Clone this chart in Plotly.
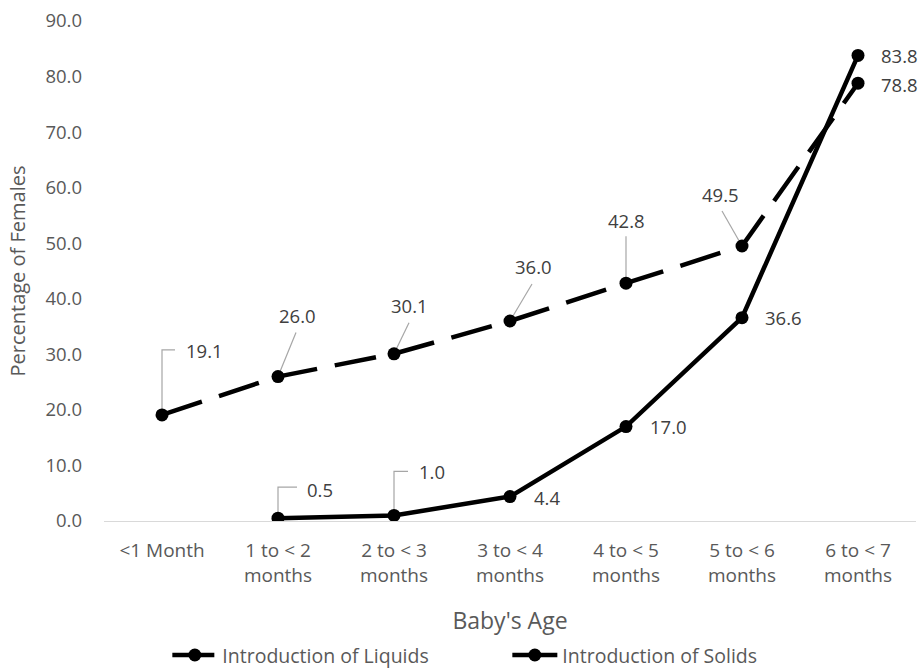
import plotly.graph_objects as go

categories = ["<1 Month", "1 to < 2<br>months", "2 to < 3<br>months", "3 to < 4<br>months",
              "4 to < 5<br>months", "5 to < 6<br>months", "6 to < 7<br>months"]
liquids = [19.1, 26.0, 30.1, 36.0, 42.8, 49.5, 78.8]
solids = [None, 0.5, 1.0, 4.4, 17.0, 36.6, 83.8]
y_ticks = [0, 10, 20, 30, 40, 50, 60, 70, 80, 90]

FONT = "Open Sans"
LABEL_COLOR = "#404040"
AXIS_COLOR = "#595959"
LEADER = "#a6a6a6"

# label placement styles (pixel offsets): (dx, dy, xanchor, leader path or None)
liq_style = [
    (22, 64, "left", "M0,0 L0,65 L13,65"),
    (19, 61, "center", "M0,0 L18,44"),
    (15, 48, "center", "M0,0 L15,31"),
    (23, 55, "center", "M0,0 L22,37"),
    (0, 63, "center", "M0,0 L0,47"),
    (-22, 52, "center", "M0,0 L-20,35"),
    (21, -1, "left", None),
]
sol_style = [
    None,
    (27, 29, "left", "M0,0 L0,31 L19,31"),
    (23, 44, "left", "M0,0 L0,44 L14,44"),
    (22, -1, "left", None),
    (22, 0, "left", None),
    (21, 0, "left", None),
    (21, 0, "left", None),
]

fig = go.Figure()
fig.add_trace(go.Scatter(
    x=categories, y=liquids, name="Introduction of Liquids", mode="lines+markers",
    line=dict(color="black", width=4.5, dash="42px,18px"),
    marker=dict(color="black", size=13),
))
fig.add_trace(go.Scatter(
    x=categories, y=solids, name="Introduction of Solids", mode="lines+markers",
    line=dict(color="black", width=4.5),
    marker=dict(color="black", size=13),
))

annotations = []
shapes = []
for series, styles in ((liquids, liq_style), (solids, sol_style)):
    for i, (v, st) in enumerate(zip(series, styles)):
        if v is None or st is None:
            continue
        dx, dy, anchor, path = st
        annotations.append(dict(
            x=categories[i], y=v, xref="x", yref="y", text=f"{v:.1f}", showarrow=False,
            xshift=dx, yshift=dy, xanchor=anchor, yanchor="middle",
            font=dict(family=FONT, size=18.5, color=LABEL_COLOR),
        ))
        if path:
            shapes.append(dict(
                type="path", xref="x", yref="y", xsizemode="pixel", ysizemode="pixel",
                xanchor=i, yanchor=v, path=path, layer="below",
                line=dict(color=LEADER, width=1.2),
            ))

fig.update_layout(
    width=921, height=668,
    margin=dict(l=104, r=5, t=21, b=147),
    plot_bgcolor="white", paper_bgcolor="white",
    font=dict(family=FONT, size=18, color=AXIS_COLOR),
    showlegend=True,
    legend=dict(orientation="h", x=0.078, xanchor="left", xref="paper",
                y=0.019, yanchor="middle", yref="container",
                font=dict(family=FONT, size=19.5, color=AXIS_COLOR), entrywidth=280,
                itemwidth=45),
    annotations=annotations,
    shapes=shapes,
    xaxis=dict(
        type="category", range=[-0.5, 6.5], showline=True, linecolor="#d9d9d9", linewidth=1,
        showgrid=False, zeroline=False, ticks="", automargin=False,
        tickfont=dict(family=FONT, size=19, color=AXIS_COLOR), ticklabelstandoff=12,
        title=dict(text="Baby's Age", font=dict(family=FONT, size=23, color=AXIS_COLOR), standoff=29),
    ),
    yaxis=dict(
        range=[0, 90], tickvals=y_ticks, tickformat=".1f", showgrid=False, zeroline=False,
        showline=False, ticks="", automargin=False, ticklabelstandoff=21,
        tickfont=dict(family=FONT, size=18.5, color=AXIS_COLOR),
        title=dict(text="Percentage of Females", font=dict(family=FONT, size=20, color=AXIS_COLOR), standoff=14),
    ),
)

fig.write_html("out.html", config={"displayModeBar": False},
               post_script="document.body.style.margin='0';")
